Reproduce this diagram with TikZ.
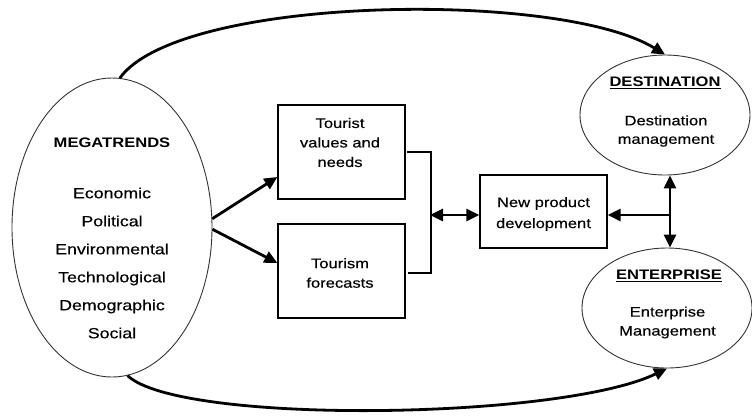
\documentclass[tikz,border=0pt]{standalone}
\usepackage{fontspec}
\setmainfont{Liberation Sans}[FakeStretch=1.2,UprightFeatures={FakeBold=0.35}]
\usetikzlibrary{arrows.meta,shapes.geometric,calc}
\begin{document}
\begin{tikzpicture}[x=1pt,y=-1pt,
  ell/.style={ellipse,draw=black!80,line width=0.9pt,inner sep=0pt},
  box/.style={rectangle,draw,line width=1.3pt,inner sep=0pt,minimum width=127pt},
  arr/.style={line width=2.8pt,-{Triangle[length=13pt,width=12pt]}},
  darr/.style={line width=2.8pt,{Triangle[length=13pt,width=12pt]}-{Triangle[length=13pt,width=12pt]}},
  txt/.style={align=center,inner sep=0pt,font=\fontsize{13.8}{19.5}\selectfont},
  ttl/.style={align=center,inner sep=0pt,font=\fontsize{13.8}{16}\selectfont\bfseries},
  lst/.style={align=center,inner sep=0pt,font=\fontsize{14.8}{28}\selectfont}]
\useasboundingbox (0,0) rectangle (752,416);

% ellipses
\node[ell,minimum width=200pt,minimum height=299pt] (mega) at (112,227.5) {};
\node[ell,minimum width=170pt,minimum height=120pt] (dest) at (665,115) {};
\node[ell,minimum width=170pt,minimum height=120pt] (ent) at (667,308) {};

% ellipse texts
\node[ttl] (mtitle) at (112,143) {MEGATRENDS};
\node[lst] (mlist) at (112,263) {Economic\\Political\\Environmental\\Technological\\Demographic\\Social};
\node[ttl] (dtitle) at (665,83) {\underline{DESTINATION}};
\node[txt,font=\fontsize{13.8}{18.5}\selectfont] (dtext) at (666,131) {Destination\\management};
\node[ttl] (etitle) at (669,276) {\underline{ENTERPRISE}};
\node[txt,font=\fontsize{13.8}{19}\selectfont] (etext) at (667.5,322.5) {Enterprise\\Management};

% boxes
\node[box,minimum height=94pt] (tv) at (341.5,152) {};
\node[box,minimum height=94pt] (tf) at (341.5,271) {};
\node[box,minimum height=73pt] (npd) at (543.5,211.5) {};
\node[txt] (tvtext) at (340,142.5) {Tourist\\values and\\needs};
\node[txt] (tftext) at (340,273) {Tourism\\forecasts};
\node[txt,font=\fontsize{13.8}{21}\selectfont] (npdtext) at (543.5,214) {New product\\development};

% arrows from megatrends
\draw[arr] (mega.5.4) -- ([yshift=-25pt]tv.west);
\draw[arr] (mega.-1.4) -- ([yshift=8pt]tf.west);

% bracket
\draw[line width=1.4pt] ([xshift=1.5pt]tv.east) -- ++(24,0) coordinate (bt) |- ([xshift=2pt,yshift=-2pt]tf.east);
\coordinate (bj) at (430,215);
\draw[darr] (bj) -- (npd.west |- bj);

% right side
\coordinate (j) at (670,215);
\draw[darr] (j |- dest.south) -- (j |- ent.north);
\draw[arr] (j) -- (npd.east |- j);

% big arcs
\draw[arr] (mega.87) .. controls (180,-5) and (560,-10) .. (dest.north);
\draw[arr] (mega.-84) .. controls (180,425) and (560,420) .. (ent.south);
\end{tikzpicture}
\end{document}
